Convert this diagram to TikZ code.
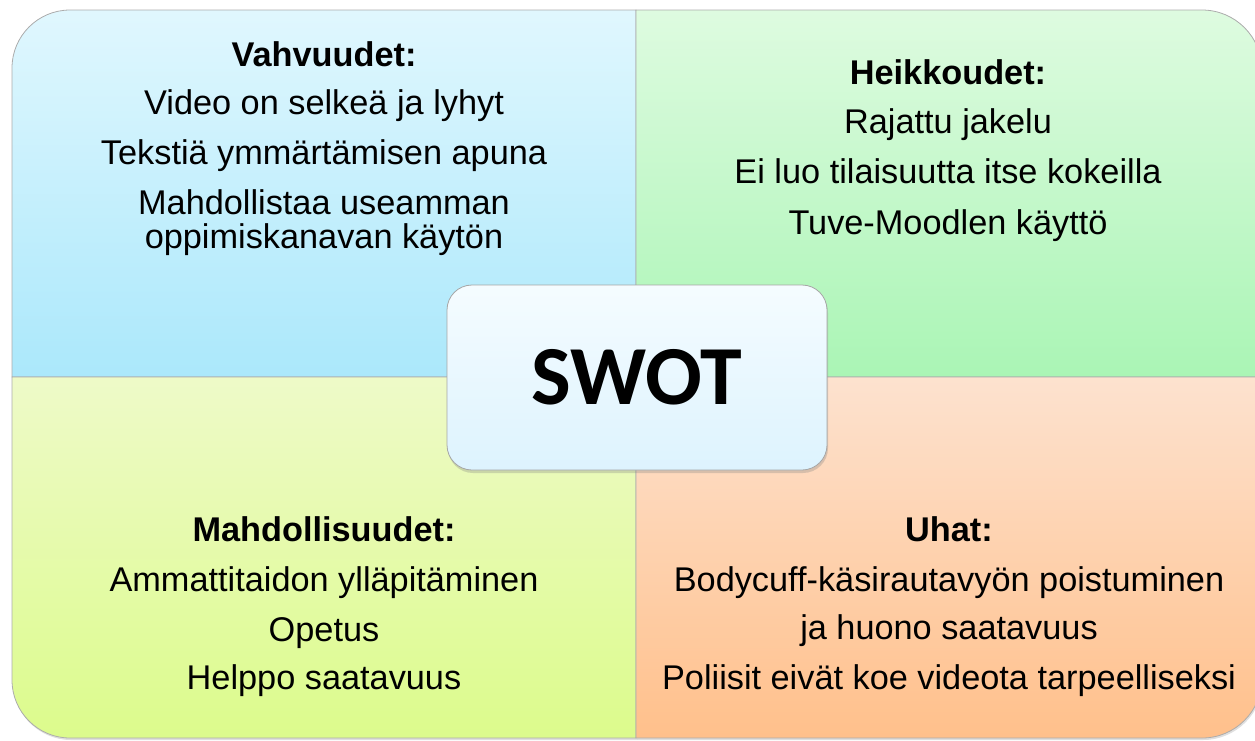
\documentclass[tikz,border=0pt]{standalone}
\usepackage{fontspec}
\setmainfont{Liberation Sans}
\newfontfamily\swotfont{Carlito}
\usetikzlibrary{shadows}
\definecolor{stop}{HTML}{E0F7FE}
\definecolor{sbot}{HTML}{ABE8FB}
\definecolor{wtop}{HTML}{DEFBE0}
\definecolor{wbot}{HTML}{AAF5B5}
\definecolor{otop}{HTML}{EEFAC8}
\definecolor{obot}{HTML}{DCFB8C}
\definecolor{ttop}{HTML}{FDE2CF}
\definecolor{tbot}{HTML}{FFC08B}
\definecolor{boxtop}{HTML}{F5FCFF}
\definecolor{boxbot}{HTML}{DDF3FE}
\tikzset{quad/.style={draw=gray!65, line width=0.8pt,
    drop shadow={opacity=0.25, shadow xshift=1pt, shadow yshift=-2pt}},
  txt/.style={anchor=base, inner sep=0pt, font=\fontsize{34.3}{36}\selectfont},
  hd/.style={anchor=base, inner sep=0pt, font=\fontsize{34.3}{36}\selectfont\bfseries},
  swotbox/.style={draw=gray!70, line width=0.8pt, rounded corners=25pt, top color=boxtop, bottom color=boxbot,
    minimum width=380pt, minimum height=185pt, inner sep=0pt,
    font=\swotfont\bfseries\fontsize{84}{84}\selectfont,
    drop shadow={opacity=0.3, shadow xshift=1pt, shadow yshift=-3pt}}}

\begin{document}
\begin{tikzpicture}[x=1pt,y=-1pt]
\useasboundingbox (0,0) rectangle (1255,740);
\clip (0,0) rectangle (1255,740);

\path[quad, top color=stop, bottom color=sbot] (636,377) -- (12,377) -- (12,68) arc[start angle=180, end angle=270, radius=58] -- (636,10) -- cycle;
\path[quad, top color=wtop, bottom color=wbot] (636,377) -- (636,10) -- (1202,10) arc[start angle=270, end angle=360, radius=60] -- (1262,377) -- cycle;
\path[quad, top color=otop, bottom color=obot] (636,377) -- (12,377) -- (12,680) arc[start angle=180, end angle=90, radius=58] -- (636,738) -- cycle;
\path[quad, top color=ttop, bottom color=tbot] (636,377) -- (1262,377) -- (1262,678) arc[start angle=0, end angle=90, radius=60] -- (636,738) -- cycle;

\node[hd] (s-head) at (324,66) {Vahvuudet:};
\node[txt] (s-1) at (324,114) {Video on selkeä ja lyhyt};
\node[txt] (s-2) at (324,164) {Tekstiä ymmärtämisen apuna};
\node[txt] (s-3a) at (324,214) {Mahdollistaa useamman};
\node[txt] (s-3b) at (324,248) {oppimiskanavan käytön};

\node[hd] (w-head) at (948,84) {Heikkoudet:};
\node[txt] (w-1) at (948,133) {Rajattu jakelu};
\node[txt] (w-2) at (948,183) {Ei luo tilaisuutta itse kokeilla};
\node[txt] (w-3) at (948,234) {Tuve-Moodlen käyttö};

\node[hd] (o-head) at (324,541) {Mahdollisuudet:};
\node[txt] (o-1) at (324,591) {Ammattitaidon ylläpitäminen};
\node[txt] (o-2) at (324,641) {Opetus};
\node[txt] (o-3) at (324,689) {Helppo saatavuus};

\node[hd] (t-head) at (949,541) {Uhat:};
\node[txt] (t-1) at (949,591) {Bodycuff-käsirautavyön poistuminen};
\node[txt] (t-2) at (949,639) {ja huono saatavuus};
\node[txt] (t-3) at (949,689) {Poliisit eivät koe videota tarpeelliseksi};

\node[swotbox] (swot) at (637,377.5) {SWOT};
\end{tikzpicture}
\end{document}
